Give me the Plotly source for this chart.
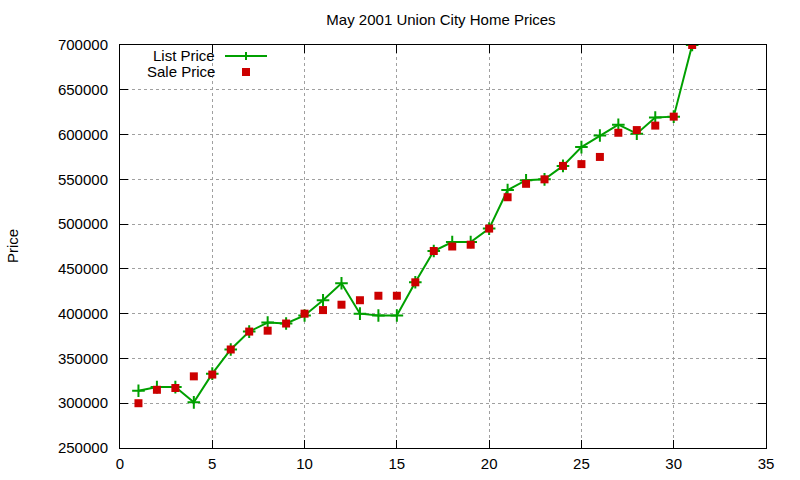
import plotly.graph_objects as go

# May 2001 listings, day of month vs price
days = list(range(1, 32))
list_price = [314000, 318000, 318000, 301000, 333000, 360000, 380000, 390000, 389000, 398000,
              415000, 434000, 400000, 398000, 398000, 435000, 470000, 480000, 480000, 495000,
              538000, 549000, 550000, 565000, 586000, 599000, 611000, 601000, 619000, 620000,
              700000]
sale_price = [300000, 315000, 317000, 330000, 332000, 360000, 380000, 381000, 389000, 400000,
              404000, 410000, 415000, 420000, 420000, 435000, 470000, 475000, 477000, 495000,
              530000, 545000, 550000, 565000, 567000, 575000, 602000, 605000, 610000, 620000,
              700000]

green = "#00a000"
red = "#cc0000"
font = "Liberation Sans, Arial, sans-serif"

fig = go.Figure()
fig.add_trace(go.Scatter(x=days, y=list_price, mode="lines+markers", name="List Price",
                         line=dict(color=green, width=2),
                         marker=dict(symbol="cross-thin", size=9, line=dict(color=green, width=2))))
fig.add_trace(go.Scatter(x=days, y=sale_price, mode="markers", name="Sale Price",
                         marker=dict(symbol="square", size=8, color=red)))

# plot area in window pixels
L, R, T, B = 120, 766, 45, 448
def px(x):
    return (x - L) / (R - L)
def py(y):
    return (B - y) / (B - T)

# gnuplot-style key: text on the left, sample on the right
fig.add_annotation(x=px(217), y=py(55), xref="paper", yref="paper", text="List Price",
                   showarrow=False, xanchor="right", yanchor="middle", font=dict(size=15, color="black"))
fig.add_annotation(x=px(217), y=py(71), xref="paper", yref="paper", text="Sale Price",
                   showarrow=False, xanchor="right", yanchor="middle", font=dict(size=15, color="black"))
fig.add_shape(type="line", xref="paper", yref="paper", x0=px(225), x1=px(267), y0=py(56), y1=py(56),
              line=dict(color=green, width=2))
fig.add_shape(type="line", xref="paper", yref="paper", x0=px(246), x1=px(246), y0=py(52), y1=py(60),
              line=dict(color=green, width=2))
fig.add_shape(type="rect", xref="paper", yref="paper", x0=px(242), x1=px(250), y0=py(68), y1=py(76),
              line=dict(width=0), fillcolor=red)
fig.add_annotation(x=px(12), y=py(246), xref="paper", yref="paper", text="Price", textangle=-90,
                   showarrow=False, xanchor="center", yanchor="middle", font=dict(size=15, color="black"))

axis_common = dict(showgrid=True, gridcolor="#a0a0a0", griddash="dot", gridwidth=1,
                   ticks="inside", ticklen=8, tickcolor="black", tickwidth=1,
                   showline=True, linecolor="black", linewidth=1, mirror="ticks",
                   zeroline=False, automargin=False, tickfont=dict(size=15, color="black"))

fig.update_layout(
    width=800, height=480,
    margin=dict(l=L, r=800 - R, t=T, b=480 - B),
    paper_bgcolor="white", plot_bgcolor="white",
    font=dict(family=font, color="black"),
    showlegend=False,
    title=dict(text="May 2001 Union City Home Prices", x=px(441), xanchor="center",
               xref="paper", y=1 - 20 / 480, yanchor="middle", font=dict(size=15)),
    xaxis=dict(range=[0, 35], dtick=5, ticklabelstandoff=2, **axis_common),
    yaxis=dict(range=[250000, 700000], dtick=50000, tickformat="d", ticklabelstandoff=8, **axis_common),
)

# drop the default body margin so the figure sits at the window's corner
fig.write_html("out.html", config={"displayModeBar": False},
               post_script="document.body.style.margin = '0';")
